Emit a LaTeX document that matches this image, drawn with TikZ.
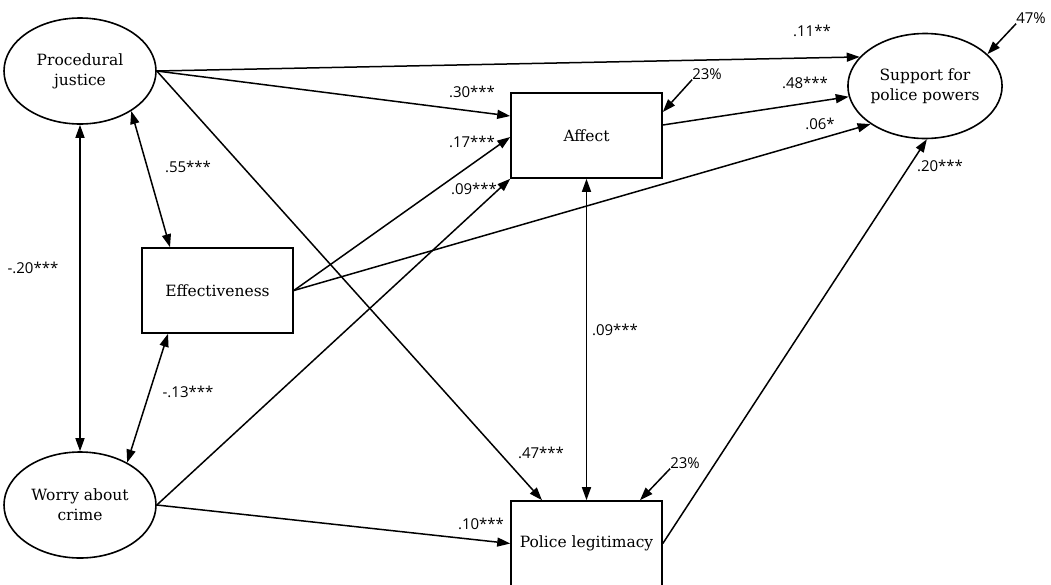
\documentclass[tikz,border=0pt]{standalone}
\usepackage{fontspec}
\setmainfont{DejaVu Serif}
\newfontfamily\lblfont{Open Sans}
\usetikzlibrary{arrows.meta,shapes.geometric}
\begin{document}
\begin{tikzpicture}[x=1pt,y=-1pt,
  lat/.style={ellipse,draw,line width=1.6pt,minimum width=152pt,minimum height=106pt,inner sep=0pt,align=center,font=\fontsize{15.5}{20}\selectfont},
  obs/.style={rectangle,draw,line width=1.6pt,minimum width=151pt,minimum height=85pt,inner sep=0pt,align=center,font=\fontsize{15.5}{20}\selectfont},
  arr/.style={line width=1.5pt,-{Triangle[length=13pt,width=9pt]}},
  cov/.style={line width=1.5pt,{Triangle[length=13pt,width=9pt]}-{Triangle[length=13pt,width=9pt]}},
  coef/.style={font=\lblfont\fontsize{15}{18}\selectfont,inner sep=0pt}
]
\useasboundingbox (0,0) rectangle (1051,584);
\clip (0,0) rectangle (1051,584);

\node[lat] (pj) at (80,71) {Procedural\\justice};
\node[lat] (wc) at (80,505) {Worry about\\crime};
\node[lat, minimum width=154pt, minimum height=105pt] (sp) at (925,86) {Support for\\police powers};
\node[obs] (aff) at (586.5,135.5) {Affect};
\node[obs] (eff) at (217.5,290.5) {Effectiveness};
\node[obs] (pl) at (586.5,543.5) {Police legitimacy};

% paths
\draw[arr] (pj.east) -- (sp.156);
\draw[arr] (pj.east) -- ([yshift=19.5pt]aff.west);
\draw[arr] (pj.east) -- ([xshift=-44.5pt]pl.north);
\draw[cov] (pj.-38) -- ([xshift=-47.5pt]eff.north);
\draw[cov] (pj.south) -- (wc.north);
\draw[cov] ([xshift=-49.5pt]eff.south) -- (wc.42);
\draw[arr] (eff.east) -- ([yshift=-1.5pt]aff.west);
\draw[arr] (eff.east) -- (sp.215);
\draw[arr] (wc.east) -- (aff.south west);
\draw[arr] (wc.east) -- (pl.west);
\draw[arr] ([yshift=10.5pt]aff.east) -- (sp.188);
\draw[cov] (aff.south) -- (pl.north);
\draw[arr] (pl.east) -- (sp.-88);

% residuals
\node[coef] (r1) at (707,74) {23\%};
\node[coef] (r2) at (1031,18) {47\%};
\node[coef] (r3) at (685,463) {23\%};
\draw[arr] (r1.south west) -- ([yshift=23.5pt]aff.east);
\draw[arr] (r2.south west) -- (sp.27);
\draw[arr] (r3.south west) -- ([xshift=53.5pt]pl.north);

% coefficients
\node[coef] (c1) at (812,31) {.11**};
\node[coef] (c2) at (805,83) {.48***};
\node[coef] (c3) at (820,124) {.06*};
\node[coef] (c4) at (940,166) {.20***};
\node[coef] (c5) at (472,92) {.30***};
\node[coef] (c6) at (472,142) {.17***};
\node[coef] (c7) at (474,189) {.09***};
\node[coef] (c8) at (188,167) {.55***};
\node[coef] (c9) at (33,268) {-.20***};
\node[coef] (c10) at (188,392) {-.13***};
\node[coef] (c11) at (615,330) {.09***};
\node[coef] (c12) at (541,453) {.47***};
\node[coef] (c13) at (481,524) {.10***};
\end{tikzpicture}
\end{document}
